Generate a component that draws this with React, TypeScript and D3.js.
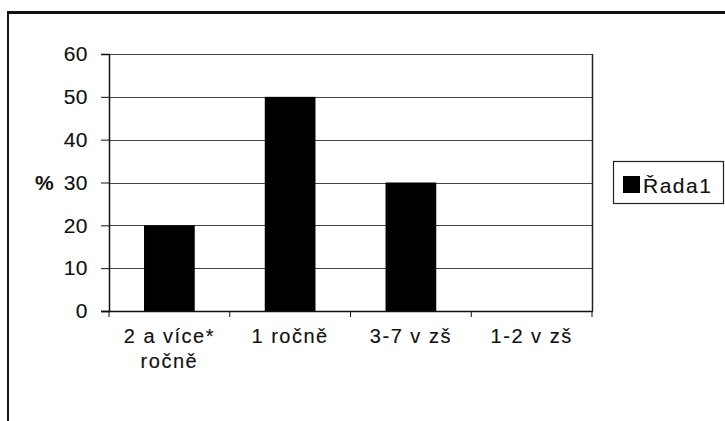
import React, { useEffect, useRef } from 'react';
import * as d3 from 'd3';

// data
const categories: string[][] = [['2 a více*', 'ročně'], ['1 ročně'], ['3-7 v zš'], ['1-2 v zš']];
const values: number[] = [20, 50, 30, 0];
const yTicks: number[] = [0, 10, 20, 30, 40, 50, 60];
const seriesName = 'Řada1';
const yLabel = '%';

const FONT = "Arial, 'Liberation Sans', sans-serif";

const App = () => {
  const svgRef = useRef<SVGSVGElement>(null);

  useEffect(() => {
    const width = 725, height = 421;
    const plot = { left: 109, right: 592, top: 54, bottom: 311 };

    const svg = d3.select(svgRef.current);
    svg.selectAll('*').remove();
    svg.attr('width', width).attr('height', height).style('background', 'white');

    // outer frame (cropped at right and bottom)
    svg.append('line')
      .attr('x1', 7).attr('x2', width + 5).attr('y1', 12.5).attr('y2', 12.5)
      .attr('stroke', '#111').attr('stroke-width', 3);
    svg.append('line')
      .attr('x1', 8).attr('x2', 8).attr('y1', 11).attr('y2', height + 5)
      .attr('stroke', '#111').attr('stroke-width', 2);

    const x = d3.scaleBand<number>()
      .domain(categories.map((_, i) => i))
      .range([plot.left, plot.right])
      .paddingInner(0)
      .paddingOuter(0);

    const y = d3.scaleLinear()
      .domain([0, 60])
      .range([plot.bottom, plot.top]);

    // gridlines
    svg.append('g')
      .selectAll('line')
      .data(yTicks.filter(t => t > 0))
      .enter()
      .append('line')
      .attr('x1', plot.left).attr('x2', plot.right)
      .attr('y1', d => Math.round(y(d)) + 0.5).attr('y2', d => Math.round(y(d)) + 0.5)
      .attr('stroke', '#444').attr('stroke-width', 1);

    // right edge of the plot area
    svg.append('line')
      .attr('x1', plot.right + 0.5).attr('x2', plot.right + 0.5)
      .attr('y1', plot.top).attr('y2', plot.bottom)
      .attr('stroke', '#222').attr('stroke-width', 1.5);

    // bars
    const barW = x.bandwidth() * 0.42;
    svg.append('g')
      .selectAll('rect')
      .data(values)
      .enter()
      .append('rect')
      .attr('x', (_, i) => (x(i) as number) + (x.bandwidth() - barW) / 2)
      .attr('width', barW)
      .attr('y', d => y(d))
      .attr('height', d => y(0) - y(d))
      .attr('fill', '#000');

    // y axis
    const yAxis = svg.append('g')
      .attr('transform', `translate(${plot.left},0)`)
      .call(d3.axisLeft(y).tickValues(yTicks).tickSize(8).tickPadding(13));
    yAxis.select('.domain').attr('stroke', '#111').attr('stroke-width', 1.5);
    yAxis.selectAll('.tick line').attr('stroke', '#111');
    yAxis.selectAll('.tick text')
      .attr('font-family', FONT).attr('font-size', 21).attr('fill', '#111')
      .attr('stroke', '#111').attr('stroke-width', 0.15)
      .attr('letter-spacing', 0.5);

    svg.append('text')
      .attr('x', 35).attr('y', y(30))
      .attr('dy', '0.35em')
      .attr('font-family', FONT).attr('font-size', 21).attr('font-weight', 'bold')
      .attr('fill', '#111')
      .text(yLabel);

    // x axis
    const xAxis = svg.append('g')
      .attr('transform', `translate(0,${plot.bottom})`);
    xAxis.append('line')
      .attr('x1', plot.left - 8).attr('x2', plot.right + 1)
      .attr('y1', 0.5).attr('y2', 0.5)
      .attr('stroke', '#111').attr('stroke-width', 1.5);
    xAxis.selectAll('line.tick')
      .data(d3.range(categories.length + 1))
      .enter()
      .append('line')
      .attr('class', 'tick')
      .attr('x1', i => plot.left + i * x.step()).attr('x2', i => plot.left + i * x.step())
      .attr('y1', 0).attr('y2', 6)
      .attr('stroke', '#111');

    const labels = xAxis.selectAll('text')
      .data(categories)
      .enter()
      .append('text')
      .attr('x', (_, i) => (x(i) as number) + x.bandwidth() / 2)
      .attr('y', 32)
      .attr('text-anchor', 'middle')
      .attr('font-family', FONT).attr('font-size', 20).attr('fill', '#111')
      .attr('stroke', '#111').attr('stroke-width', 0.15)
      .attr('letter-spacing', 1.5);
    labels.selectAll('tspan')
      .data(d => d)
      .enter()
      .append('tspan')
      .attr('x', function () { return (this.parentNode as SVGTextElement).getAttribute('x'); })
      .attr('dy', (_, j) => (j === 0 ? 0 : 25))
      .text(d => d);

    // legend
    const legend = svg.append('g').attr('transform', 'translate(613,161)');
    legend.append('rect')
      .attr('x', 0.5).attr('y', 0.5).attr('width', 110).attr('height', 42)
      .attr('fill', 'white').attr('stroke', '#222').attr('stroke-width', 1.2);
    legend.append('rect')
      .attr('x', 10).attr('y', 15).attr('width', 17).attr('height', 17)
      .attr('fill', '#000');
    legend.append('text')
      .attr('x', 30).attr('y', 32)
      .attr('font-family', FONT).attr('font-size', 21).attr('fill', '#111')
      .attr('stroke', '#111').attr('stroke-width', 0.15)
      .attr('letter-spacing', 1.5)
      .text(seriesName);
  }, []);

  return (
    <svg ref={svgRef} style={{ position: 'absolute', left: 0, top: 0, display: 'block' }} />
  );
};

export default App;
